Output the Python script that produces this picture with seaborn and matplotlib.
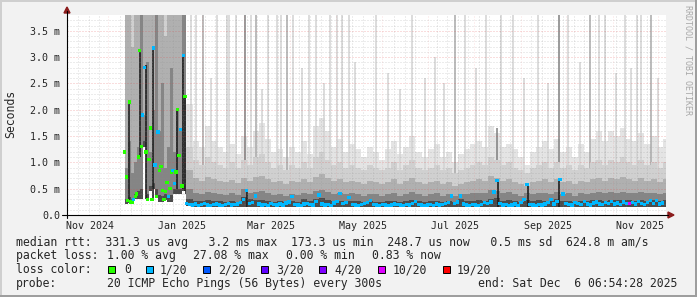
import numpy as np
import pandas as pd
import matplotlib
matplotlib.use("Agg")
import matplotlib.pyplot as plt
import matplotlib.dates as mdates
from matplotlib.lines import Line2D
from matplotlib.patches import Rectangle, Polygon
import seaborn as sns

# ------------------------------------------------------------------ data
loss_labels = ["0", "1/20", "2/20", "3/20", "4/20", "10/20", "19/20"]
loss_colors = ["#26ff00", "#00b8ff", "#0059ff", "#5e00ff", "#7e00ff", "#dd00ff", "#ff0000"]

# medians, early unstable period (daily from 2024-12-12), ms
chaos_median_start = "2024-12-12"
chaos_median = [1.20, 0.72, 0.28, 2.15, 0.25, 0.25, 0.30, 0.35, 0.40, 1.10,
                3.12, 1.30, 1.90, 2.80, 1.20, 0.30, 1.05, 1.65, 0.30, 3.17,
                0.95, 0.35, 1.58, 0.85, 0.92, 0.47, 0.30, 0.45, 0.62, 0.35,
                0.50, 0.82, 0.85, 0.60, 0.82, 2.00, 1.13, 1.62, 0.55, 3.03,
                2.25]
chaos_loss = "00000010000011000001101000000100110001010"

# medians, stable period (every 2 days from 2025-01-22), ms
median_start = "2025-01-22"
median_ms = [0.22, 0.20, 0.19, 0.21, 0.18, 0.20, 0.22, 0.19, 0.18, 0.20, 0.21, 0.19, 0.18, 0.20, 0.22, 0.19, 0.20, 0.21, 0.24, 0.30,
             0.46, 0.22, 0.24, 0.36, 0.21, 0.19, 0.20, 0.18, 0.22, 0.20, 0.19, 0.21, 0.19, 0.23, 0.25, 0.35, 0.20, 0.19, 0.18, 0.21,
             0.22, 0.20, 0.19, 0.26, 0.38, 0.21, 0.19, 0.20, 0.18, 0.23, 0.26, 0.41, 0.22, 0.24, 0.33, 0.20, 0.19, 0.18, 0.20, 0.22,
             0.24, 0.28, 0.20, 0.19, 0.18, 0.20, 0.19, 0.18, 0.19, 0.21, 0.20, 0.19, 0.18, 0.20, 0.19, 0.22, 0.26, 0.20, 0.19, 0.18,
             0.19, 0.20, 0.18, 0.21, 0.19, 0.20, 0.22, 0.24, 0.36, 0.22, 0.25, 0.36, 0.21, 0.19, 0.18, 0.20, 0.19, 0.18, 0.20, 0.24,
             0.22, 0.25, 0.44, 0.66, 0.22, 0.19, 0.20, 0.18, 0.19, 0.21, 0.18, 0.24, 0.30, 0.58, 0.20, 0.19, 0.18, 0.20, 0.19, 0.21,
             0.24, 0.30, 0.21, 0.26, 0.68, 0.40, 0.22, 0.20, 0.19, 0.24, 0.22, 0.20, 0.26, 0.21, 0.19, 0.23, 0.25, 0.21, 0.20, 0.24,
             0.22, 0.26, 0.21, 0.23, 0.20, 0.25, 0.22, 0.22, 0.24, 0.21, 0.26, 0.22, 0.20, 0.24, 0.27, 0.22, 0.27, 0.21, 0.23]
median_loss = ("11111111111111111111" "11111111111111111111" "11111111111111111111" "11111111111111111111"
               "11111111111111111111" "11111111111111111111" "11111111111111111111" "1111111511111111111")

# smoke bands, early period (every 2 days from 2024-12-12), ms
chaos_smoke_start = "2024-12-12"
chaos_lo = [0.20, 0.22, 0.22, 0.30, 0.30, 0.30, 1.30, 0.30, 0.45, 0.50, 0.35, 0.25, 0.25, 0.28, 0.25, 0.25, 0.40, 0.40, 0.40, 0.45, 0.40]
chaos_core = [0.30, 0.35, 0.30, 0.40, 0.45, 0.50, 1.40, 0.40, 0.55, 0.60, 0.50, 0.38, 0.36, 0.40, 0.36, 0.38, 0.50, 0.50, 0.50, 0.55, 0.50]
chaos_dark = [0.90, 1.40, 0.80, 1.00, 1.30, 3.90, 1.90, 2.90, 1.20, 2.00, 3.90, 1.60, 2.50, 0.90, 1.30, 2.80, 1.20, 2.00, 1.60, 3.90, 3.90]
chaos_mid = [3.90, 3.90, 3.20, 3.90, 3.90, 3.90, 3.90, 3.90, 3.90, 3.90, 3.90, 3.90, 3.90, 3.40, 3.90, 3.90, 3.90, 3.90, 3.90, 3.90, 3.90]
chaos_light = [3.90] * 21
chaos_max = [3.90] * 21

# smoke bands, stable period (every 4 days from 2025-01-22), ms
smoke_start = "2025-01-22"
smoke_lo = [0.17, 0.16, 0.16, 0.16, 0.15, 0.16, 0.16, 0.15, 0.16, 0.16, 0.16, 0.15, 0.16, 0.16, 0.15, 0.16, 0.15, 0.16, 0.16, 0.15,
            0.16, 0.16, 0.15, 0.16, 0.16, 0.15, 0.16, 0.15, 0.16, 0.16, 0.15, 0.16, 0.16, 0.15, 0.16, 0.16, 0.15, 0.16, 0.16, 0.15,
            0.16, 0.15, 0.16, 0.16, 0.15, 0.16, 0.16, 0.15, 0.16, 0.16, 0.15, 0.16, 0.16, 0.15, 0.16, 0.16, 0.15, 0.16, 0.16, 0.15,
            0.16, 0.16, 0.15, 0.16, 0.16, 0.15, 0.16, 0.16, 0.15, 0.16, 0.16, 0.15, 0.16, 0.16, 0.15, 0.16, 0.16, 0.15, 0.16, 0.16]
smoke_core = [0.30, 0.27, 0.26, 0.28, 0.27, 0.26, 0.25, 0.27, 0.25, 0.34, 0.30, 0.28, 0.29, 0.27, 0.25, 0.26, 0.25, 0.26, 0.25, 0.30,
              0.26, 0.30, 0.33, 0.28, 0.26, 0.27, 0.26, 0.27, 0.26, 0.25, 0.26, 0.25, 0.25, 0.26, 0.27, 0.25, 0.26, 0.28, 0.26, 0.25,
              0.26, 0.27, 0.25, 0.26, 0.25, 0.30, 0.26, 0.27, 0.28, 0.27, 0.30, 0.32, 0.27, 0.28, 0.26, 0.25, 0.28, 0.27, 0.28, 0.27,
              0.26, 0.30, 0.26, 0.27, 0.25, 0.27, 0.26, 0.28, 0.28, 0.27, 0.28, 0.28, 0.29, 0.28, 0.27, 0.28, 0.27, 0.28, 0.26, 0.28]
smoke_dark = [0.50, 0.42, 0.40, 0.44, 0.42, 0.40, 0.38, 0.41, 0.38, 0.50, 0.42, 0.44, 0.46, 0.42, 0.38, 0.40, 0.37, 0.40, 0.38, 0.42,
              0.39, 0.45, 0.48, 0.44, 0.40, 0.42, 0.39, 0.41, 0.39, 0.37, 0.40, 0.39, 0.37, 0.39, 0.42, 0.37, 0.40, 0.43, 0.39, 0.37,
              0.39, 0.41, 0.37, 0.39, 0.36, 0.40, 0.39, 0.41, 0.42, 0.41, 0.48, 0.46, 0.41, 0.44, 0.39, 0.37, 0.42, 0.40, 0.41, 0.42,
              0.39, 0.44, 0.39, 0.41, 0.37, 0.41, 0.39, 0.42, 0.43, 0.41, 0.43, 0.42, 0.44, 0.42, 0.41, 0.43, 0.41, 0.42, 0.39, 0.42]
smoke_mid = [0.85, 0.70, 0.65, 0.72, 0.68, 0.65, 0.62, 0.66, 0.60, 0.70, 0.65, 0.72, 0.75, 0.68, 0.62, 0.64, 0.58, 0.64, 0.62, 0.68,
             0.62, 0.72, 0.78, 0.70, 0.64, 0.68, 0.62, 0.65, 0.62, 0.58, 0.64, 0.62, 0.58, 0.62, 0.68, 0.58, 0.64, 0.70, 0.62, 0.58,
             0.62, 0.65, 0.58, 0.62, 0.56, 0.58, 0.62, 0.65, 0.68, 0.65, 0.75, 0.70, 0.65, 0.68, 0.62, 0.58, 0.56, 0.62, 0.65, 0.68,
             0.62, 0.68, 0.62, 0.65, 0.58, 0.65, 0.62, 0.68, 0.70, 0.65, 0.70, 0.68, 0.72, 0.68, 0.65, 0.70, 0.65, 0.68, 0.62, 0.68]
smoke_light = [1.30, 1.05, 0.95, 1.10, 1.00, 0.95, 0.90, 1.00, 0.90, 1.05, 0.95, 1.10, 1.15, 1.00, 0.90, 0.95, 0.85, 0.95, 0.90, 1.00,
               0.90, 1.10, 1.20, 1.05, 0.95, 1.00, 0.90, 0.95, 0.90, 0.85, 0.95, 0.90, 0.85, 0.90, 1.00, 0.85, 0.95, 1.05, 0.90, 0.85,
               0.90, 0.95, 0.85, 0.90, 0.80, 0.85, 0.90, 0.95, 1.00, 0.95, 1.10, 1.05, 0.95, 1.00, 0.90, 0.85, 0.80, 0.90, 0.95, 1.00,
               0.90, 1.00, 0.90, 0.95, 0.85, 0.95, 0.90, 1.00, 1.05, 0.95, 1.05, 1.00, 1.10, 1.00, 0.95, 1.05, 0.95, 1.00, 0.90, 1.00]
smoke_max = [2.10, 1.40, 1.30, 1.70, 1.40, 1.30, 1.20, 1.35, 1.15, 1.50, 1.30, 1.60, 1.75, 1.45, 1.20, 1.25, 1.10, 1.30, 1.20, 1.40,
             1.15, 1.70, 1.85, 1.60, 1.30, 1.45, 1.20, 1.35, 1.25, 1.10, 1.30, 1.20, 1.05, 1.25, 1.40, 1.15, 1.30, 1.50, 1.20, 1.10,
             1.25, 1.35, 1.10, 1.20, 1.00, 1.15, 1.25, 1.35, 1.40, 1.30, 1.70, 1.55, 1.30, 1.35, 1.25, 1.10, 0.95, 1.20, 1.30, 1.40,
             1.25, 1.45, 1.20, 1.30, 1.10, 1.35, 1.20, 1.45, 1.60, 1.40, 1.60, 1.50, 1.65, 1.45, 1.40, 1.55, 1.35, 1.50, 1.30, 1.45]

# single-interval spikes (date, bottom ms, top ms, shade L/M/D/K)
spike_dates = ["2025-01-25", "2025-01-28", "2025-02-02", "2025-02-07", "2025-02-11", "2025-02-18", "2025-02-19",
               "2025-02-24", "2025-03-02", "2025-03-06", "2025-03-09", "2025-03-13", "2025-03-17", "2025-03-23",
               "2025-03-26", "2025-03-30", "2025-04-03", "2025-04-09", "2025-04-13", "2025-04-18", "2025-04-23",
               "2025-04-27", "2025-05-02", "2025-05-05", "2025-05-10", "2025-05-14", "2025-05-28", "2025-06-05",
               "2025-06-13", "2025-06-21", "2025-06-29", "2025-07-06", "2025-07-12", "2025-07-19", "2025-07-26",
               "2025-08-02", "2025-08-09", "2025-08-16", "2025-08-19", "2025-08-27", "2025-09-03", "2025-09-12",
               "2025-09-19", "2025-09-26", "2025-10-02", "2025-10-10", "2025-10-17", "2025-10-23", "2025-10-27",
               "2025-11-03", "2025-11-09", "2025-11-13", "2025-11-17", "2025-11-20", "2025-11-26", "2025-12-01",
               "2024-12-15", "2024-12-22", "2024-12-26", "2024-12-31", "2025-01-16", "2025-01-20", "2025-01-21",
               "2025-03-03", "2025-08-17", "2025-09-06", "2025-09-26"]
spike_bottoms = [0.16] * 56 + [0.28, 1.10, 0.30, 0.30, 0.50, 0.50, 0.45] + [0.16, 0.16, 0.16, 0.16]
spike_tops = [3.9, 3.9, 3.9, 2.6, 3.9, 3.9, 3.9,
              3.9, 3.9, 3.9, 3.9, 2.4, 3.9, 3.9,
              3.9, 3.9, 3.9, 2.8, 3.9, 3.9, 2.5,
              3.9, 3.9, 3.9, 3.9, 2.9, 3.9, 2.7,
              2.4, 3.9, 2.6, 3.0, 2.5, 3.9, 3.9,
              2.8, 3.9, 1.65, 3.9, 3.9, 2.6, 3.9,
              2.5, 3.9, 3.9, 2.9, 3.9, 3.9, 3.9,
              2.7, 3.9, 2.8, 3.9, 3.9, 3.9, 2.6,
              2.13, 3.13, 2.85, 3.20, 2.00, 3.03, 2.25,
              0.50, 0.66, 0.58, 0.70]
spike_shade = ("LLMLLLL" "LDLMLLL" "LMLLLLL" "LLLLLLL" "LLLLLML" "LLDLLLL" "LDLLMLL" "LLLLLML"
               "KKKKKKK" "KKKK")

y_ticks = [0.0, 0.5, 1.0, 1.5, 2.0, 2.5, 3.0, 3.5]
y_tick_labels = ["0.0", "0.5 m", "1.0 m", "1.5 m", "2.0 m", "2.5 m", "3.0 m", "3.5 m"]
x_tick_months = ["2024-11-01", "2025-01-01", "2025-03-01", "2025-05-01", "2025-07-01", "2025-09-01", "2025-11-01"]
x_tick_labels = ["Nov 2024", "Jan 2025", "Mar 2025", "May 2025", "Jul 2025", "Sep 2025", "Nov 2025"]

legend_rtt = "median rtt:  331.3 us avg   3.2 ms max  173.3 us min  248.7 us now   0.5 ms sd  624.8 m am/s"
legend_loss_parts = ["packet loss:", "1.00 % avg", "27.08 % max", "0.00 % min", "0.83 % now"]
probe_text = "20 ICMP Echo Pings (56 Bytes) every 300s"
end_text = "end: Sat Dec  6 06:54:28 2025"

graph_end = pd.Timestamp("2025-12-06 06:54:28")
graph_days = 397.6

# ------------------------------------------------------------------ figure
sns.set_style("white")
plt.rcParams["font.family"] = ["DejaVu Sans Mono", "DejaVu Sans"]
plt.rcParams["lines.scale_dashes"] = False

W, H = 697, 297
BG = "#f2f2f2"
fig = plt.figure(figsize=(W / 100, H / 100), dpi=100, facecolor=BG)

def fx(x):
    return x / W

def fy(y):
    return 1 - y / H

L, R, T, B = 67, 666, 15, 215
ax = fig.add_axes([fx(L), fy(B), (R - L) / W, (B - T) / H])
ax.set_facecolor("white")
for s in ax.spines.values():
    s.set_visible(False)

num = mdates.date2num
x_end = num(graph_end)
x_start = x_end - graph_days

# --- smoke
sx = list(num(pd.date_range(chaos_smoke_start, periods=len(chaos_lo), freq="2D"))) + \
     list(num(pd.date_range(smoke_start, periods=len(smoke_lo), freq="4D"))) + [x_end]
def ext(a, b):
    v = list(a) + list(b)
    return np.array(v + [v[-1]])
lo = ext(chaos_lo, smoke_lo)
bands = [
    (ext(chaos_max, smoke_max), "#e4e4e4", 1.0),
    (ext(chaos_light, smoke_light), "#d0d0d0", 1.2),
    (ext(chaos_mid, smoke_mid), "#b0b0b0", 1.3),
    (ext(chaos_dark, smoke_dark), "#858585", 1.4),
    (ext(chaos_core, smoke_core), "#4c4c4c", 1.5),
]
for top, col, z in bands:
    ax.fill_between(sx, lo, top, step="post", color=col, linewidth=0, zorder=z)

shade_col = {"L": "#d2d2d2", "M": "#a8a8a8", "D": "#7e7e7e", "K": "#1e1e1e"}
shade_z = {"L": 1.1, "M": 1.1, "D": 1.1, "K": 1.6}
shade_w = {"L": 1.1, "M": 1.1, "D": 1.1, "K": 1.2}
for d, b, t, s in zip(spike_dates, spike_bottoms, spike_tops, spike_shade):
    xd = num(pd.Timestamp(d))
    ax.vlines(xd, b, t, colors=shade_col[s], linewidth=shade_w[s], zorder=shade_z[s])

# --- grid (drawn on top of the smoke, as rrdtool does)
gray_kw = dict(color="#8c8c8c", alpha=0.32, linewidth=0.7, dashes=(0.72, 1.44), zorder=2)
red_h_kw = dict(color="#e04848", alpha=0.38, linewidth=0.7, dashes=(0.72, 1.44), zorder=2.1)
red_v_kw = dict(color="#e04848", alpha=0.18, linewidth=0.7, dashes=(0.72, 1.44), zorder=2.1)
for v in np.arange(1, 38):
    if v % 5:
        ax.axhline(v / 10, **gray_kw)
for yv in y_ticks[1:]:
    ax.axhline(yv, **red_h_kw)
months = pd.date_range("2024-12-01", "2025-12-01", freq="MS")
for m in pd.date_range("2024-11-04", "2025-12-06", freq="7D"):
    if all(abs((m - mm).days) > 1 for mm in months):
        ax.axvline(num(m), **gray_kw)
for m in months:
    ax.axvline(num(m), **red_v_kw)

# --- medians coloured by loss
med_df = pd.DataFrame({
    "t": list(num(pd.date_range(chaos_median_start, periods=len(chaos_median), freq="D"))) +
         list(num(pd.date_range(median_start, periods=len(median_ms), freq="2D"))),
    "rtt": chaos_median + median_ms,
    "loss": [loss_labels[int(c)] for c in chaos_loss + median_loss],
})
sns.scatterplot(data=med_df, x="t", y="rtt", hue="loss", hue_order=loss_labels,
                palette=dict(zip(loss_labels, loss_colors)), marker="s", s=6,
                linewidth=0, legend=False, ax=ax, zorder=3)

ax.set_xlim(x_start, x_end)
ax.set_ylim(0, 3.80)
ax.set_xlabel("")
ax.set_ylabel("")
ax.set_yticks(y_ticks)
ax.set_yticklabels(y_tick_labels, fontsize=7.2)
ax.set_yticks([v / 10 for v in range(1, 38) if v % 5], minor=True)
ax.set_xticks([num(pd.Timestamp(m) + pd.Timedelta(days=18)) for m in x_tick_months])
ax.set_xticklabels(x_tick_labels, fontsize=7.2)
ax.tick_params(axis="x", length=0, pad=4.5)
ax.tick_params(axis="y", which="major", length=2.2, width=0.7, color="#e0a0a0", pad=2.8)
ax.tick_params(axis="y", which="minor", length=2.2, width=0.7, color="#c8c8c8")

# --- axes lines and arrows
fig.add_artist(Line2D([fx(62), fx(668)], [fy(215), fy(215)], color="black", linewidth=0.8))
fig.add_artist(Line2D([fx(67), fx(67)], [fy(218), fy(11)], color="black", linewidth=0.8))
arrow_col = "#8b1c1c"
fig.add_artist(Polygon([(fx(64), fy(13)), (fx(70), fy(13)), (fx(67), fy(7))], closed=True,
                       color=arrow_col, transform=fig.transFigure))
fig.add_artist(Polygon([(fx(668), fy(212)), (fx(668), fy(218)), (fx(674), fy(215))], closed=True,
                       color=arrow_col, transform=fig.transFigure))

# --- frame shading
fig.add_artist(Rectangle((0, fy(2)), 1, 2 / H, color="#cfcfcf", transform=fig.transFigure, linewidth=0))
fig.add_artist(Rectangle((0, 0), 2 / W, 1, color="#cfcfcf", transform=fig.transFigure, linewidth=0))
fig.add_artist(Rectangle((0, 0), 1, 2 / H, color="#9e9e9e", transform=fig.transFigure, linewidth=0))
fig.add_artist(Rectangle((fx(695), 0), 2 / W, 1, color="#9e9e9e", transform=fig.transFigure, linewidth=0))

# --- texts
fs = 8.3
fig.text(fx(11), fy(114), "Seconds", rotation=90, ha="center", va="center", fontsize=fs)
fig.text(fx(688), fy(60), "RRDTOOL / TOBI OETIKER", rotation=270, ha="center", va="center",
         fontsize=6.0, color="#a8a8a8")

fig.text(fx(16), fy(245.7), legend_rtt, fontsize=fs, va="baseline")
for xp, t in zip([16, 107, 193, 286.5, 372], legend_loss_parts):
    fig.text(fx(xp), fy(259.4), t, fontsize=fs, va="baseline")
fig.text(fx(16), fy(273.2), "loss color:", fontsize=fs, va="baseline")
box_x = [108, 146, 203, 261, 319, 378, 443]
txt_x = [124, 160, 218, 276, 334, 393, 457]
for bx, tx, lab, col in zip(box_x, txt_x, loss_labels, loss_colors):
    fig.add_artist(Rectangle((fx(bx), fy(273)), 7 / W, 7 / H, facecolor=col, edgecolor="black",
                             linewidth=0.7, transform=fig.transFigure))
    fig.text(fx(tx), fy(273.2), lab, fontsize=fs, va="baseline")
fig.text(fx(16), fy(286.9), "probe:", fontsize=fs, va="baseline")
fig.text(fx(107), fy(286.9), probe_text, fontsize=fs, va="baseline")
fig.text(fx(478), fy(286.9), end_text, fontsize=fs, va="baseline")

fig.savefig("out.png", dpi=100, facecolor=BG)
